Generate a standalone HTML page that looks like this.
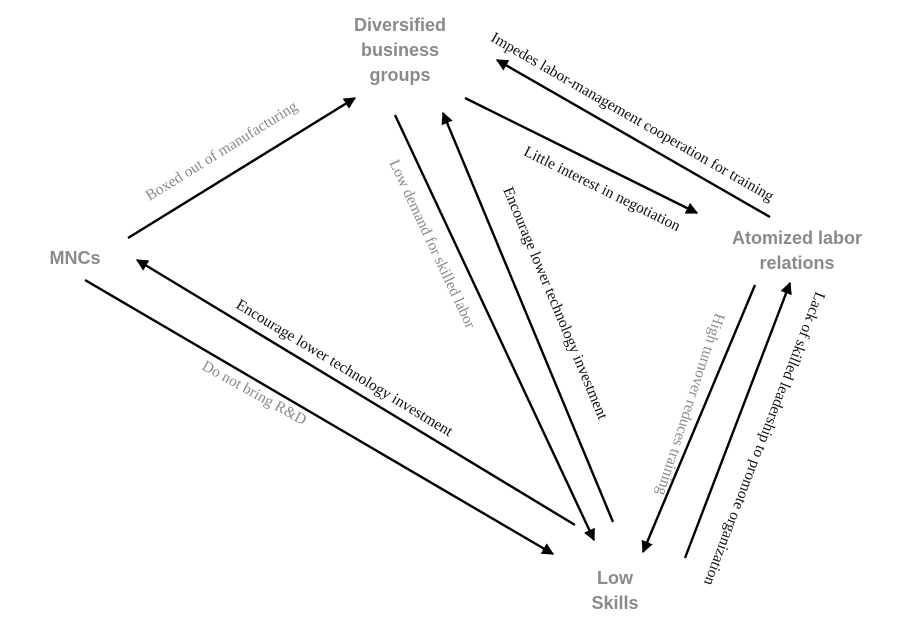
<!DOCTYPE html>
<html><head><meta charset="utf-8"><style>
html,body{margin:0;padding:0;background:#fff;}
svg{display:block;}
.n{font-family:"Liberation Sans",sans-serif;font-weight:bold;font-size:18px;fill:#8a8a8a;text-anchor:middle;}
.e{font-family:"Liberation Serif",serif;font-size:15.5px;text-anchor:middle;}
.k{fill:#111;} .g{fill:#8a8a8a;}
line{stroke:#000;stroke-width:2.4;}
</style></head><body>
<svg width="913" height="619" viewBox="0 0 913 619" xmlns="http://www.w3.org/2000/svg">
<defs><marker id="a" viewBox="0 0 10 10" refX="9" refY="5" markerWidth="5" markerHeight="5" orient="auto"><path d="M0,0L10,5L0,10z" fill="#000"/></marker></defs>
<text class="n" x="400" y="31">Diversified</text>
<text class="n" x="400" y="56">business</text>
<text class="n" x="400" y="81">groups</text>
<text class="n" x="75" y="264">MNCs</text>
<text class="n" x="797" y="244">Atomized labor</text>
<text class="n" x="797" y="269">relations</text>
<text class="n" x="615" y="584">Low</text>
<text class="n" x="615" y="609">Skills</text>

<line x1="128" y1="238" x2="355" y2="98" marker-end="url(#a)"/>
<line x1="465" y1="98" x2="697" y2="213" marker-end="url(#a)"/>
<line x1="770" y1="217" x2="497" y2="60" marker-end="url(#a)"/>
<line x1="395" y1="115" x2="594" y2="540" marker-end="url(#a)"/>
<line x1="613" y1="522" x2="443" y2="113" marker-end="url(#a)"/>
<line x1="575" y1="525" x2="137" y2="260" marker-end="url(#a)"/>
<line x1="85" y1="280" x2="553" y2="554" marker-end="url(#a)"/>
<line x1="755" y1="285" x2="643" y2="552" marker-end="url(#a)"/>
<line x1="685" y1="558" x2="790" y2="283" marker-end="url(#a)"/>

<text class="e g" transform="translate(224,155) rotate(-31.7)">Boxed out of manufacturing</text>
<text class="e k" transform="translate(630,121) rotate(29.9)">Impedes labor-management cooperation  for training</text>
<text class="e k" transform="translate(600,193) rotate(26.4)">Little interest in negotiation</text>
<text class="e g" transform="translate(428,246) rotate(65)">Low demand for skilled labor</text>
<text class="e k" transform="translate(551,305) rotate(67.4)">Encourage lower technology investment</text>
<text class="e k" transform="translate(342,372) rotate(31.2)">Encourage lower technology investment</text>
<text class="e g" transform="translate(252,397) rotate(29)">Do not bring R&amp;D</text>
<text class="e g" transform="translate(686,403) rotate(-72) rotate(180)">High turnover reduces training</text>
<text class="e k" transform="translate(760,437) rotate(-69) rotate(180)">Lack of skilled leadership to promote organization</text>
</svg>
</body></html>
